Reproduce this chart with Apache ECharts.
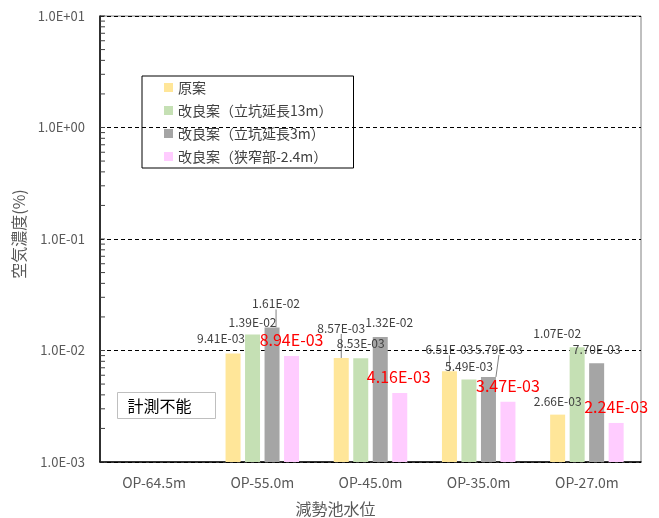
<!DOCTYPE html>
<html>
<head>
<meta charset="utf-8">
<script src="https://cdn.jsdelivr.net/npm/echarts@6/dist/echarts.min.js"></script>
<style>
html,body{margin:0;padding:0;background:#fff;}
#chart{width:659px;height:518px;}
</style>
</head>
<body>
<div id="chart"></div>
<script>
// ---- data ----
const categories = ['OP-64.5m', 'OP-55.0m', 'OP-45.0m', 'OP-35.0m', 'OP-27.0m'];
const seriesNames = ['原案', '改良案（立坑延長13m）', '改良案（立坑延長3m）', '改良案（狭窄部-2.4m）'];
const original = [null, 9.41e-3, 8.57e-3, 6.51e-3, 2.66e-3];
const ext13m = [null, 1.39e-2, 8.53e-3, 5.49e-3, 1.07e-2];
const ext3m = [null, 1.61e-2, 1.32e-2, 5.79e-3, 7.70e-3];
const narrow = [null, 8.94e-3, 4.16e-3, 3.47e-3, 2.24e-3];
const yMin = 1e-3, yMax = 1e1;
const noteText = '計測不能';

// ---- styles ----
const colors = ['#FFE699', '#C5E0B4', '#A5A5A5', '#FFCCFF'];
// label center offsets relative to top-center of each bar (px)
const labelOffsets = [
  [null, [-12, -15], [0, -30], [0, -22], [0, -13.5]],
  [null, [0, -12.5], [0, -15], [0, -13.5], [-20, -14]],
  [null, [4, -24], [9, -15], [10.5, -28], [0, -14]],
  [null, [0, -16], [-1, -16], [0, -16], [0, -16]]
];
const leaderLines = [[2, 3], [], [1, 3], []];
const FONT = '"Noto Sans CJK JP", "Noto Sans", sans-serif';

function fmtExp(v, digits) {
  const e = Math.round(Math.floor(Math.log10(v) + 1e-9));
  const m = v / Math.pow(10, e);
  return m.toFixed(digits) + 'E' + (e < 0 ? '-' : '+') + String(Math.abs(e)).padStart(2, '0');
}

// tick values for the log axis (majors + minors)
const tickVals = [];
for (let d = -3; d <= 0; d++) {
  for (let k = 1; k <= 9; k++) tickVals.push(k * Math.pow(10, d));
}
tickVals.push(yMax);

const allData = [original, ext13m, ext3m, narrow];
const series = allData.map((arr, si) => ({
  name: seriesNames[si],
  type: 'bar',
  barWidth: 15,
  barGap: '30%',
  itemStyle: { color: colors[si] },
  data: arr.map((v, i) => ({
    value: v,
    labelLine: { show: leaderLines[si].indexOf(i) >= 0 }
  })),
  label: {
    show: true,
    position: 'top',
    fontFamily: FONT,
    fontSize: si === 3 ? 16 : 12,
    color: si === 3 ? '#FF0000' : '#404040',
    formatter: p => (p.value == null ? '' : fmtExp(p.value, 2))
  },
  labelLine: { show: false, lineStyle: { color: '#808080', width: 1 } },
  labelLayout: function (params) {
    const off = labelOffsets[si][params.dataIndex];
    if (!off) return {};
    const r = params.rect;
    return {
      x: r.x + r.width / 2 + off[0],
      y: r.y + off[1],
      align: 'center',
      verticalAlign: 'middle'
    };
  }
}));

series.push({
  type: 'custom',
  silent: true,
  z: 5,
  data: tickVals.map(v => [0, v]),
  renderItem: function (params, api) {
    const cs = params.coordSys;
    const y = api.coord([0, api.value(1)])[1];
    return {
      type: 'line',
      shape: { x1: cs.x, y1: y, x2: cs.x + 5, y2: y },
      style: { stroke: '#404040', lineWidth: 1 }
    };
  }
});

const chart = echarts.init(document.getElementById('chart'), null, { renderer: 'canvas' });
chart.setOption({
  animation: false,
  textStyle: { fontFamily: FONT },
  grid: {
    left: 100, right: 18, top: 16, bottom: 56,
    containLabel: false,
    outerBoundsMode: 'none',
    show: true, borderColor: '#808080', borderWidth: 1
  },
  legend: {
    orient: 'vertical',
    left: 142, top: 76,
    itemWidth: 9, itemHeight: 9, itemGap: 6,
    icon: 'rect',
    padding: [3, 21, 3, 22],
    borderColor: '#000', borderWidth: 1,
    textStyle: { fontFamily: FONT, fontSize: 14, color: '#404040', lineHeight: 17 },
    data: seriesNames
  },
  xAxis: {
    type: 'category',
    data: categories,
    axisLine: { lineStyle: { color: '#000', width: 1.5 } },
    axisTick: { show: false },
    axisLabel: { fontFamily: FONT, fontSize: 14, color: '#595959', margin: 14 },
    name: '減勢池水位',
    nameLocation: 'middle',
    nameGap: 39,
    nameTextStyle: { fontFamily: FONT, fontSize: 16, color: '#595959', padding: [0, 70, 0, 0] }
  },
  yAxis: {
    type: 'log',
    logBase: 10,
    min: yMin, max: yMax,
    startValue: yMin,
    axisLine: { show: true, lineStyle: { color: '#000', width: 1.5 } },
    axisTick: { show: false },
    axisLabel: { fontFamily: FONT, fontSize: 13, color: '#595959', margin: 15, formatter: v => fmtExp(v, 1) },
    splitLine: { show: true, lineStyle: { color: '#000', type: [4, 3], width: 1 } },
    name: '空気濃度(%)',
    nameLocation: 'middle',
    nameGap: 65,
    nameTextStyle: { fontFamily: FONT, fontSize: 16, color: '#595959', padding: [0, 0, 0, 10] }
  },
  graphic: [{
    type: 'group',
    left: 117, top: 392,
    children: [{
      type: 'rect',
      shape: { x: 0, y: 0, width: 98, height: 26 },
      style: { fill: '#fff', stroke: '#BFBFBF', lineWidth: 1 }
    }, {
      type: 'text',
      x: 10, y: 13,
      style: { text: noteText, font: '16px ' + FONT, fill: '#000', verticalAlign: 'middle' }
    }]
  }],
  series: series
});
</script>
</body>
</html>
